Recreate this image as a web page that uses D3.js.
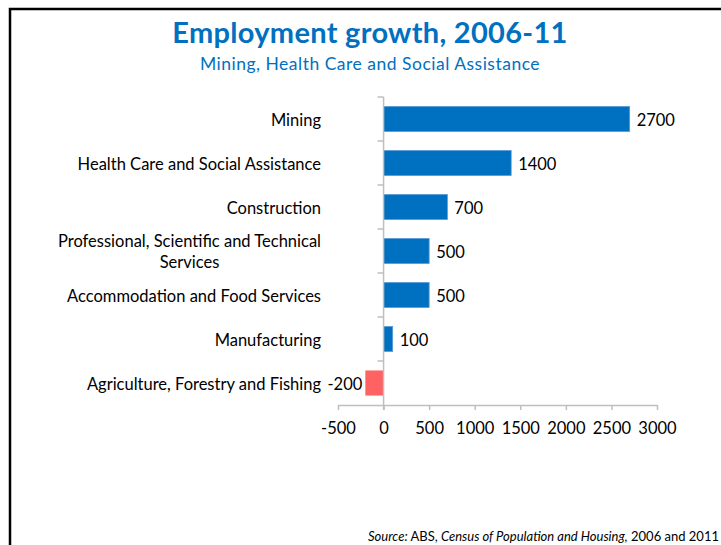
<!DOCTYPE html>
<html>
<head>
<meta charset="utf-8">
<script src="https://cdn.jsdelivr.net/npm/d3@7/dist/d3.min.js"></script>
<style>
  html, body { margin: 0; padding: 0; background: #fff; }
  svg { display: block; }
  text { font-family: Lato, "Open Sans", sans-serif; }
</style>
</head>
<body>
<svg id="chart" width="721" height="545"></svg>
<script>
// Employment change by industry, 2006-11
const categories = [
  "Mining",
  "Health Care and Social Assistance",
  "Construction",
  "Professional, Scientific and Technical Services",
  "Accommodation and Food Services",
  "Manufacturing",
  "Agriculture, Forestry and Fishing"
];
const values = [2700, 1400, 700, 500, 500, 100, -200];
const tickValues = [-500, 0, 500, 1000, 1500, 2000, 2500, 3000];

const svg = d3.select("#chart");
const blue = "#0070C0";
const red = "#FF6263";
const axisGrey = "#BFBFBF";
const fs = 16.5;

// slide frame
svg.append("rect")
  .attr("x", 10).attr("y", 9)
  .attr("width", 730).attr("height", 560)
  .attr("fill", "none").attr("stroke", "#000").attr("stroke-width", 2.5);

// titles
svg.append("text")
  .attr("x", 370).attr("y", 43)
  .attr("text-anchor", "middle")
  .attr("fill", blue)
  .attr("font-size", 29).attr("font-weight", "bold")
  .attr("letter-spacing", 0.3)
  .text("Employment growth, 2006-11");
svg.append("text")
  .attr("x", 370).attr("y", 70)
  .attr("text-anchor", "middle")
  .attr("fill", blue)
  .attr("font-size", 17.5)
  .attr("letter-spacing", 0.5)
  .text("Mining, Health Care and Social Assistance");

// scales
const x = d3.scaleLinear().domain([-500, 3000]).range([338, 657]);
const y = d3.scaleBand().domain(categories).range([97, 405]).paddingInner(0.43).paddingOuter(0.215);

const g = svg.append("g");

// bars
g.selectAll("rect.bar")
  .data(categories.map((c, i) => ({ c, v: values[i] })))
  .join("rect")
  .attr("class", "bar")
  .attr("x", d => x(Math.min(0, d.v)))
  .attr("width", d => Math.abs(x(d.v) - x(0)))
  .attr("y", d => y(d.c))
  .attr("height", y.bandwidth())
  .attr("fill", d => d.v < 0 ? red : blue)
  .attr("stroke", d => d.v < 0 ? "none" : "#5B9BD5")
  .attr("stroke-width", 0.8);

// x axis
const xAxis = g.append("g")
  .attr("transform", `translate(0,${405})`)
  .call(d3.axisBottom(x).tickValues(tickValues).tickSize(5).tickSizeOuter(0).tickFormat(d => String(d)));
xAxis.select(".domain").attr("stroke", axisGrey).attr("stroke-width", 1.5);
xAxis.selectAll(".tick line").attr("stroke", axisGrey).attr("stroke-width", 1.5);
xAxis.selectAll(".tick text")
  .attr("fill", "#000").attr("font-size", fs).attr("dy", 0).attr("y", 29)
  .style("font-family", "Lato, 'Open Sans', sans-serif");

// y axis at zero, ticks on band boundaries
const yEdges = d3.range(categories.length + 1).map(i => y.range()[0] + i * y.step());
const yAxis = g.append("g");
yAxis.append("line")
  .attr("x1", x(0)).attr("x2", x(0))
  .attr("y1", yEdges[0]).attr("y2", yEdges[yEdges.length - 1] + 5)
  .attr("stroke", axisGrey).attr("stroke-width", 1.5);
yAxis.selectAll("line.ytick")
  .data(yEdges.slice(0, -1))
  .join("line")
  .attr("class", "ytick")
  .attr("x1", x(0) - 6).attr("x2", x(0))
  .attr("y1", d => d).attr("y2", d => d)
  .attr("stroke", axisGrey).attr("stroke-width", 1.5);

// category labels, right-aligned block with centred wrapped lines
const labelRight = 321;
const wrapWidth = 275;
categories.forEach(c => {
  const cy = y(c) + y.bandwidth() / 2;
  const t = g.append("text").attr("font-size", fs).attr("fill", "#000");
  const words = c.split(" ");
  const lines = [];
  let line = [];
  const probe = g.append("text").attr("font-size", fs);
  words.forEach(w => {
    const test = line.concat(w).join(" ");
    probe.text(test);
    if (probe.node().getComputedTextLength() > wrapWidth && line.length) {
      lines.push(line.join(" "));
      line = [w];
    } else line.push(w);
  });
  lines.push(line.join(" "));
  let maxW = 0;
  lines.forEach(l => { probe.text(l); maxW = Math.max(maxW, probe.node().getComputedTextLength()); });
  probe.remove();
  const lh = 21;
  const cx = labelRight - maxW / 2;
  lines.forEach((l, i) => {
    t.append("tspan")
      .attr("x", cx)
      .attr("y", cy + 6.5 + (i - (lines.length - 1) / 2) * lh)
      .attr("text-anchor", "middle")
      .text(l);
  });
});

// value labels
g.selectAll("text.val")
  .data(categories.map((c, i) => ({ c, v: values[i] })))
  .join("text")
  .attr("class", "val")
  .attr("font-size", fs)
  .attr("fill", "#000")
  .attr("x", d => d.v < 0 ? x(d.v) - 3 : x(d.v) + 7)
  .attr("text-anchor", d => d.v < 0 ? "end" : "start")
  .attr("y", d => y(d.c) + y.bandwidth() / 2 + 6.5)
  .text(d => d.v);

// source note
const src = svg.append("text")
  .attr("x", 719).attr("y", 541)
  .attr("text-anchor", "end")
  .attr("font-size", 13).attr("fill", "#000");
src.append("tspan").attr("font-style", "italic").text("Source:");
src.append("tspan").text(" ABS, ");
src.append("tspan").attr("font-style", "italic").text("Census of Population and Housing,");
src.append("tspan").text(" 2006 and 2011");
</script>
</body>
</html>
